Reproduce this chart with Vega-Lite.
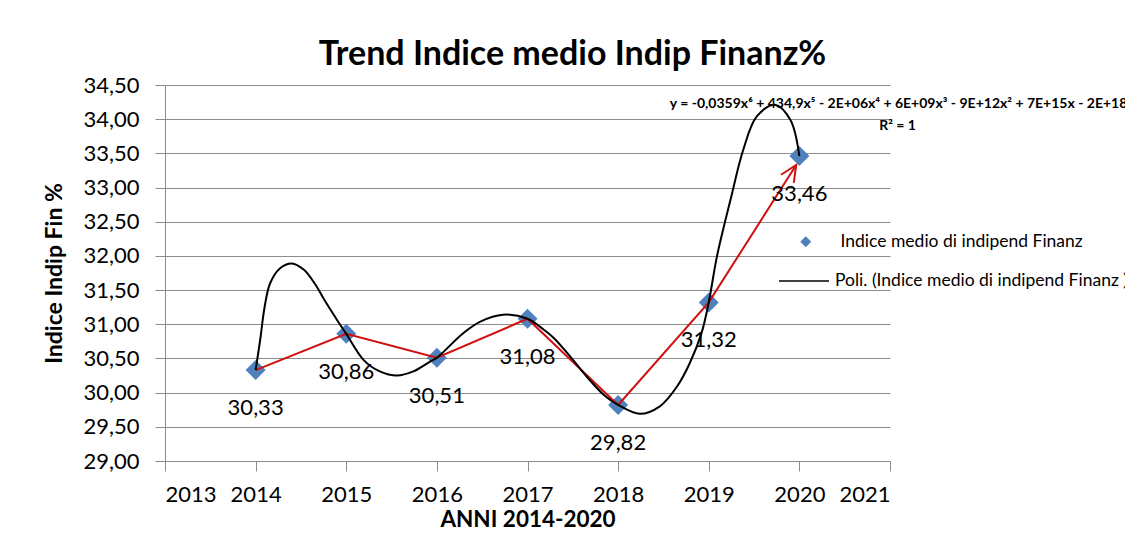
{
  "$schema": "https://vega.github.io/schema/vega-lite/v6.json",
  "width": 725,
  "height": 376,
  "autosize": {"type": "none"},
  "padding": {"left": 165, "top": 85, "right": 235, "bottom": 75},
  "background": "white",
  "config": {
    "locale": {"number": {"decimal": ",", "thousands": ".", "grouping": [3], "currency": ["€", ""]}},
    "font": "Lato",
    "view": {"stroke": null},
    "legend": {"padding": 0, "labelFont": "Lato", "labelFontSize": 17.5, "labelColor": "black", "labelLimit": 0}
  },
  "title": {
    "text": "Trend Indice medio Indip Finanz%",
    "fontSize": 34,
    "font": "Lato",
    "fontWeight": "bold",
    "color": "black",
    "anchor": "middle",
    "dx": 45,
    "offset": 2
  },
  "datasets": {
    "punti": [
      {"anno": 2014, "valore": 30.33},
      {"anno": 2015, "valore": 30.86},
      {"anno": 2016, "valore": 30.51},
      {"anno": 2017, "valore": 31.08},
      {"anno": 2018, "valore": 29.82},
      {"anno": 2019, "valore": 31.32},
      {"anno": 2020, "valore": 33.46}
    ],
    "freccia": [
      {"anno": 2014, "valore": 30.33},
      {"anno": 2015, "valore": 30.86},
      {"anno": 2016, "valore": 30.51},
      {"anno": 2017, "valore": 31.08},
      {"anno": 2018, "valore": 29.82},
      {"anno": 2019, "valore": 31.32},
      {"anno": 2019.965, "valore": 33.33}
    ],
    "punta": [
      {"anno": 2019.965, "valore": 33.33}
    ],
    "poli": [
      {"anno": 2014, "valore": 30.33},
      {"anno": 2014.05, "valore": 30.77},
      {"anno": 2014.1, "valore": 31.26},
      {"anno": 2014.16, "valore": 31.6},
      {"anno": 2014.27, "valore": 31.82},
      {"anno": 2014.4, "valore": 31.89},
      {"anno": 2014.53, "valore": 31.8},
      {"anno": 2014.65, "valore": 31.6},
      {"anno": 2014.78, "valore": 31.31},
      {"anno": 2014.9, "valore": 31.06},
      {"anno": 2015, "valore": 30.86},
      {"anno": 2015.19, "valore": 30.48},
      {"anno": 2015.37, "valore": 30.31},
      {"anno": 2015.56, "valore": 30.25},
      {"anno": 2015.74, "valore": 30.31},
      {"anno": 2015.92, "valore": 30.45},
      {"anno": 2016, "valore": 30.51},
      {"anno": 2016.29, "valore": 30.87},
      {"anno": 2016.48, "valore": 31.04},
      {"anno": 2016.73, "valore": 31.14},
      {"anno": 2017, "valore": 31.08},
      {"anno": 2017.18, "valore": 30.92},
      {"anno": 2017.29, "valore": 30.8},
      {"anno": 2017.47, "valore": 30.53},
      {"anno": 2017.65, "valore": 30.24},
      {"anno": 2017.84, "valore": 29.97},
      {"anno": 2018, "valore": 29.82},
      {"anno": 2018.24, "valore": 29.69},
      {"anno": 2018.46, "valore": 29.8},
      {"anno": 2018.65, "valore": 30.09},
      {"anno": 2018.79, "valore": 30.43},
      {"anno": 2018.92, "valore": 30.87},
      {"anno": 2019, "valore": 31.32},
      {"anno": 2019.09, "valore": 31.99},
      {"anno": 2019.24, "valore": 32.82},
      {"anno": 2019.38, "valore": 33.55},
      {"anno": 2019.53, "valore": 34.04},
      {"anno": 2019.73, "valore": 34.21},
      {"anno": 2019.9, "valore": 33.99},
      {"anno": 2020, "valore": 33.46}
    ],
    "equazione": [
      {"anno": 2018.57, "valore": 34.22, "testo": "y = -0,0359x⁶ + 434,9x⁵ - 2E+06x⁴ + 6E+09x³ - 9E+12x² + 7E+15x - 2E+18"},
      {"anno": 2020.88, "valore": 33.9, "testo": "R² = 1"}
    ]
  },
  "encoding": {
    "x": {
      "field": "anno",
      "type": "quantitative",
      "scale": {"domain": [2013, 2021], "nice": false, "zero": false},
      "axis": {
        "title": "ANNI 2014-2020",
        "titleFont": "Lato",
        "titleFontSize": 22.5,
        "titleFontWeight": "bold",
        "titleColor": "black",
        "titlePadding": 3,
        "values": [2013, 2014, 2015, 2016, 2017, 2018, 2019, 2020, 2021],
        "format": "d",
        "labelFontSize": 22,
        "labelColor": "black",
        "labelPadding": 13,
        "tickSize": 10,
        "tickColor": "#8c8c8c",
        "domainColor": "#8c8c8c",
        "grid": false
      }
    },
    "y": {
      "field": "valore",
      "type": "quantitative",
      "scale": {"domain": [29, 34.5], "nice": false, "zero": false},
      "axis": {
        "title": "Indice Indip Fin %",
        "titleFont": "Lato",
        "titleFontSize": 23,
        "titleFontWeight": "bold",
        "titleColor": "black",
        "titlePadding": 16,
        "values": [29, 29.5, 30, 30.5, 31, 31.5, 32, 32.5, 33, 33.5, 34, 34.5],
        "format": ".2f",
        "labelFontSize": 22,
        "labelColor": "black",
        "labelPadding": 16,
        "tickSize": 10,
        "tickColor": "#8c8c8c",
        "domainColor": "#8c8c8c",
        "grid": true,
        "gridColor": "#8c8c8c"
      }
    }
  },
  "layer": [
    {
      "data": {"name": "punti"},
      "mark": {"type": "point", "shape": "diamond", "filled": true, "size": 400, "opacity": 1},
      "encoding": {
        "color": {
          "datum": "Indice medio di indipend Finanz",
          "type": "nominal",
          "scale": {"domain": ["Indice medio di indipend Finanz"], "range": ["#4F81BD"]},
          "legend": {
            "title": null,
            "orient": "none",
            "legendX": 632,
            "legendY": 148,
            "symbolType": "diamond",
            "symbolSize": 121,
            "labelOffset": 26
          }
        }
      }
    },
    {
      "data": {"name": "freccia"},
      "mark": {"type": "line", "color": "#D01010", "strokeWidth": 2}
    },
    {
      "data": {"name": "poli"},
      "mark": {"type": "line", "strokeWidth": 2, "interpolate": "catmull-rom"},
      "encoding": {
        "stroke": {
          "datum": "Poli. (Indice medio di indipend Finanz )",
          "type": "nominal",
          "scale": {"domain": ["Poli. (Indice medio di indipend Finanz )"], "range": ["black"]},
          "legend": {
            "title": null,
            "orient": "none",
            "legendX": 613,
            "legendY": 170,
            "symbolType": "stroke",
            "symbolSize": 2500,
            "symbolStrokeWidth": 1.5,
            "labelOffset": 5
          }
        }
      }
    },
    {
      "data": {"name": "punta"},
      "mark": {
        "type": "point",
        "shape": "M -0.42 0.91 L 0 0 L 0.42 0.91",
        "filled": false,
        "size": 1296,
        "angle": 32.5,
        "color": "#D01010",
        "strokeWidth": 2,
        "opacity": 1
      }
    },
    {
      "data": {"name": "punti"},
      "mark": {"type": "text", "dy": 38, "fontSize": 22, "font": "Lato", "color": "black"},
      "encoding": {
        "text": {"field": "valore", "type": "quantitative", "format": ".2f"}
      }
    },
    {
      "data": {"name": "equazione"},
      "mark": {"type": "text", "align": "left", "baseline": "middle", "fontSize": 14, "fontWeight": "bold", "font": "Lato", "color": "black"},
      "encoding": {
        "text": {"field": "testo", "type": "nominal"}
      }
    }
  ]
}
